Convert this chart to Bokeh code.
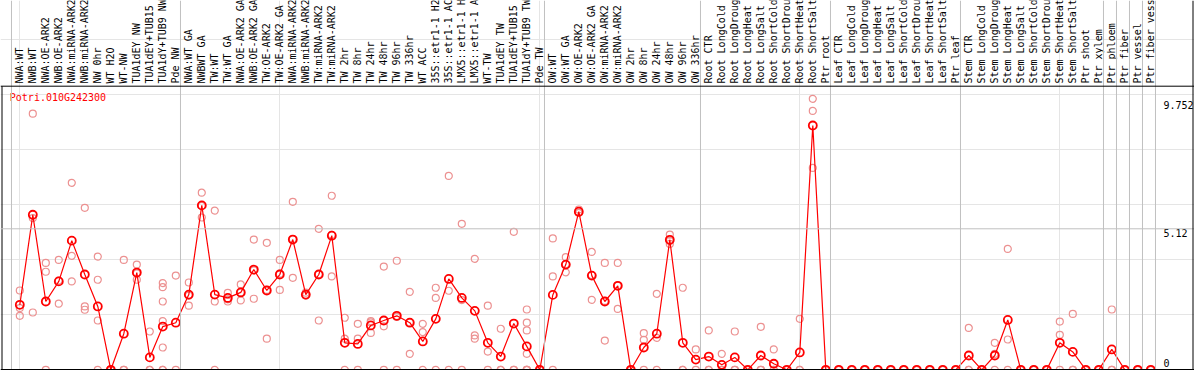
import math
from bokeh.plotting import figure
from bokeh.models import Range1d, Span, ColumnDataSource
from bokeh.core.properties import value
from bokeh.embed import file_html
from bokeh.resources import INLINE

gene = "Potri.010G242300"

labels = [
    "NWA:WT", "NWB:WT", "NWA:OE-ARK2", "NWB:OE-ARK2", "NWA:miRNA-ARK2", "NWB:miRNA-ARK2",
    "NW 0hr", "WT H2O", "WT-NW", "TUA1dEY NW", "TUA1dEY+TUB15 NW", "TUA1dY+TUB9 NW", "Pde NW",
    "NWA:WT GA", "NWBWT GA", "TW:WT", "TW:WT GA", "NWA:OE-ARK2 GA", "NWB:OE-ARK2 GA",
    "TW:OE-ARK2", "TW:OE-ARK2 GA", "NWA:miRNA-ARK2 GA", "NWB:miRNA-ARK2 GA", "TW:miRNA-ARK2",
    "TW:miRNA-ARK2 GA", "TW 2hr", "TW 8hr", "TW 24hr", "TW 48hr", "TW 96hr", "TW 336hr", "WT ACC",
    "35S::etr1-1 H2O", "35S::etr1-1 ACC", "LMX5::etr1-1 H2O", "LMX5::etr1-1 ACC", "WT-TW",
    "TUA1dEY TW", "TUA1dEY+TUB15 TW", "TUA1dY+TUB9 TW", "Pde TW",
    "OW:WT", "OW:WT GA", "OW:OE-ARK2", "OW:OE-ARK2 GA", "OW:miRNA-ARK2", "OW:miRNA-ARK2 GA",
    "OW 2hr", "OW 8hr", "OW 24hr", "OW 48hr", "OW 96hr", "OW 336hr",
    "Root CTR", "Root LongCold", "Root LongDrought", "Root LongHeat", "Root LongSalt",
    "Root ShortCold", "Root ShortDrought", "Root ShortHeat", "Root ShortSalt", "Ptr root",
    "Leaf CTR", "Leaf LongCold", "Leaf LongDrought", "Leaf LongHeat", "Leaf LongSalt",
    "Leaf ShortCold", "Leaf ShortDrought", "Leaf ShortHeat", "Leaf ShortSalt", "Ptr leaf",
    "Stem CTR", "Stem LongCold", "Stem LongDrought", "Stem LongHeat", "Stem LongSalt",
    "Stem ShortCold", "Stem ShortDrought", "Stem ShortHeat", "Stem ShortSalt", "Ptr shoot",
    "Ptr xylem", "Ptr phloem", "Ptr fiber", "Ptr vessel", "Ptr fiber vessel",
]

group_sizes = [13, 28, 12, 10, 10, 11, 1, 1, 1, 1]

means = [
    2.36, 5.63, 2.48, 3.21, 4.69, 3.46, 2.30, 0.00, 1.31, 3.53, 0.45, 1.57, 1.71,
    2.73, 5.97, 2.73, 2.61, 2.81, 3.64, 2.88, 3.46, 4.73, 2.73, 3.46, 4.87, 0.98, 0.94,
    1.61, 1.79, 1.96, 1.71, 1.03, 1.85, 3.30, 2.61, 2.14, 0.98, 0.48, 1.68, 0.85, 0.00,
    2.72, 3.82, 5.74, 3.42, 2.48, 3.05, 0.00, 0.81, 1.31, 4.72, 0.98, 0.37,
    0.48, 0.18, 0.45, 0.00, 0.52, 0.22, 0.00, 0.63, 8.87, 0.00,
    0.00, 0.00, 0.00, 0.00, 0.00, 0.00, 0.00, 0.00, 0.00, 0.00,
    0.52, 0.00, 0.52, 1.81, 0.00, 0.00, 0.00, 0.98, 0.65, 0.00, 0.00,
    0.74, 0.00, 0.00, 0.00,
]

replicates = [
    [2.88, 2.24, 1.96], [9.30, 5.51, 2.08], [3.88, 3.56, 0], [3.99, 3.24, 2.40],
    [6.79, 4.14, 3.21], [5.88, 2.30, 2.18], [4.11, 3.27, 1.79, 0], [0, 0, 0],
    [3.99, 0, 0], [3.82, 3.50, 3.27], [1.39, 0, 0], [3.15, 3.00, 2.48, 1.77, 0.81, 0, 0],
    [3.42, 0],
    [3.17, 2.69, 2.33], [6.43, 5.95, 5.53], [5.78, 2.48, 0], [2.79, 2.56, 2.48],
    [3.10, 2.81, 2.52], [4.73, 3.61, 2.58], [4.61, 2.90, 1.13], [3.99, 3.49, 2.90],
    [6.10, 4.75, 3.34], [2.80, 2.70, 2.70], [5.12, 3.47, 1.79], [6.32, 4.90, 3.39],
    [1.89, 1.13, 0], [1.67, 1.13, 0], [1.77, 1.72, 1.34], [3.75, 1.58, 0],
    [3.96, 1.92, 0], [2.83, 1.72, 0.58], [1.67, 1.37, 0], [2.98, 2.61, 0],
    [7.04, 2.87, 0], [5.30, 2.53, 0], [4.03, 1.25, 1.13], [2.33, 0.66, 0],
    [1.49, 0, 0], [5.01, 0, 0], [2.19, 1.71, 1.43, 0.58, 0, 0, 0], [0, 0, 0],
    [4.77, 3.39, 0], [4.09, 3.83, 3.54], [5.82, 5.70, 5.70], [4.28, 3.44, 2.54],
    [3.88, 2.50, 1.06], [3.88, 3.06, 2.21], [0, 0, 0], [1.33, 1.09, 0],
    [2.76, 1.16, 0], [4.91, 4.68, 4.57], [2.98, 0, 0], [0.74, 0],
    [1.43, 0, 0], [0.58, 0, 0], [1.39, 0, 0], [0, 0, 0], [1.56, 0, 0],
    [0.74, 0, 0], [0, 0, 0], [1.85, 0, 0], [9.84, 9.40, 7.33], [0, 0, 0],
    [0, 0, 0], [0, 0, 0], [0, 0, 0], [0, 0, 0], [0, 0, 0],
    [0, 0, 0], [0, 0, 0], [0, 0, 0], [0, 0, 0], [0, 0, 0],
    [1.52, 0, 0], [0, 0, 0], [0.98, 0.58, 0], [4.39, 1.10, 0], [0, 0, 0],
    [0, 0, 0], [0, 0, 0], [1.75, 1.27, 0], [2.03, 0, 0], [0, 0, 0], [0, 0, 0],
    [2.19, 0, 0], [0, 0, 0], [0, 0, 0], [0, 0, 0],
]

y_ticks = [0, 5.12, 9.752]
tick_labels = ["0", "5.12", "9.752"]

# ---- layout (pixel geometry of the picture) ----
W, H = 1194, 370
LEFT, TOP = 0, 0
X0, DX = 19.3, 13.0      # x of first category, px per category
Y0, DY = 369.3, 27.54    # y of value 0, px per unit

def xi(px):
    return (px - X0) / DX

def yv(py):
    return (Y0 - py) / DY

p = figure(width=W, height=H, output_backend="svg", toolbar_location=None,
           x_axis_location=None, y_axis_location=None, min_border=0,
           x_range=Range1d(xi(LEFT), xi(LEFT + W)),
           y_range=Range1d(yv(TOP + H), yv(TOP)))
p.outline_line_color = None
p.background_fill_color = "white"
p.border_fill_color = "white"

n = len(labels)
idx = list(range(n))

# group separators
grey = "#c0c0c0"
bounds = [0]
for g in group_sizes:
    bounds.append(bounds[-1] + g)
for b in bounds:
    p.add_layout(Span(location=b - 0.64, dimension="height", line_color=grey, line_width=1))

# horizontal grid at the middle tick
p.add_layout(Span(location=y_ticks[1], dimension="width", line_color=grey, line_width=1))

# frame lines
header_line = yv(85.7)
p.add_layout(Span(location=header_line, dimension="width", line_color="black", line_width=1))
p.add_layout(Span(location=0, dimension="width", line_color="black", line_width=1.5))
p.add_layout(Span(location=xi(1192.5), dimension="height", line_color="black", line_width=1))
p.segment(x0=[xi(1.5)], y0=[yv(370)], x1=[xi(1.5)], y1=[header_line], line_color="black", line_width=1)

# replicates
rx, ry = [], []
for i, r in enumerate(replicates):
    for v in r:
        rx.append(i)
        ry.append(v)
p.scatter(x=rx, y=ry, size=7, marker="circle", fill_color=None,
          line_color="#ec9191", line_width=1.2)

# mean line and markers
src = ColumnDataSource(dict(x=idx, y=means))
p.line(x="x", y="y", source=src, line_color="#ff0000", line_width=1.2)
p.scatter(x="x", y="y", source=src, size=8, marker="circle", fill_color=None,
          line_color="#ff0000", line_width=1.8)

mono = value("DejaVu Sans Mono")

# header labels (vertical)
p.text(x=idx, y=[yv(83)] * n, text=labels, angle=math.pi / 2,
       text_align="left", text_baseline="middle", text_font=mono,
       text_font_size="10px", text_color="black")

# gene name
p.text(x=[xi(9.3)], y=[yv(96.7)], text=[gene], text_align="left", text_baseline="middle",
       text_font=mono, text_font_size="10px", text_color="#ff0000")

# value labels on the right
tx = xi(1163)
top_ticks = [(t, l) for t, l in zip(y_ticks, tick_labels) if t > 0]
p.text(x=[tx] * len(top_ticks), y=[t for t, _ in top_ticks], text=[l for _, l in top_ticks],
       text_align="left", text_baseline="top", y_offset=0, text_font=mono,
       text_font_size="10px", text_color="black")
p.text(x=[tx], y=[y_ticks[0]], text=[tick_labels[0]], text_align="left",
       text_baseline="bottom", y_offset=-3, text_font=mono,
       text_font_size="10px", text_color="black")

open("out.html", "w").write(file_html(p, INLINE))
